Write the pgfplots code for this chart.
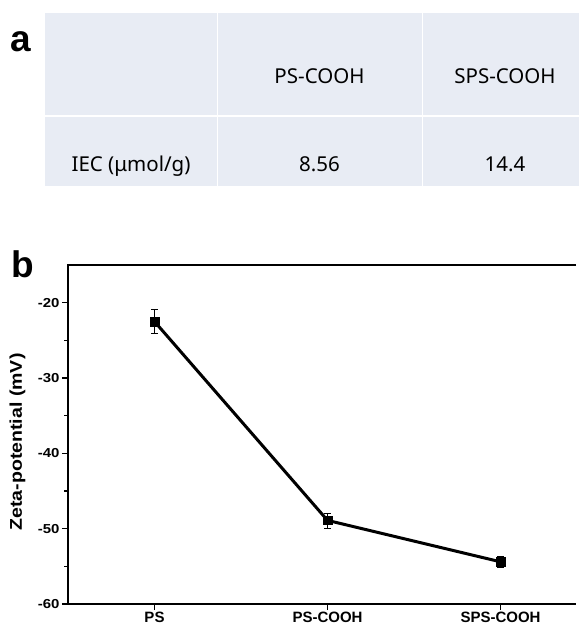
\documentclass[border=0pt]{standalone}
\usepackage{fontspec}
\setmainfont{Liberation Sans}
\newfontfamily\tabfont{Noto Sans}
\usepackage{pgfplots}
\pgfplotsset{compat=1.18}
\definecolor{cellbg}{RGB}{232,236,244}
\begin{document}
\begin{tikzpicture}
\useasboundingbox (0,0) rectangle (579pt,-626pt);
\begin{scope}[x=1pt,y=-1pt]
% table (panel a)
\fill[cellbg] (45,13) rectangle (216.5,115);
\fill[cellbg] (218,13) rectangle (421.5,115);
\fill[cellbg] (423,13) rectangle (579,115);
\fill[cellbg] (45,116.5) rectangle (216.5,186);
\fill[cellbg] (218,116.5) rectangle (421.5,186);
\fill[cellbg] (423,116.5) rectangle (579,186);
\begin{scope}[every node/.style={anchor=base, inner sep=0pt, font=\tabfont\fontsize{20.5}{24}\selectfont, text=black}]
\node at (319.5,83) {PS-COOH};
\node at (505,83) {SPS-COOH};
\node at (131,171) {IEC (μmol/g)};
\node at (319.5,171) {8.56};
\node at (505,171) {14.4};
\end{scope}
\node[anchor=base west, inner sep=0pt, font=\fontsize{37}{40}\selectfont\bfseries] at (10,52) {a};
\node[anchor=base west, inner sep=0pt, font=\fontsize{37}{40}\selectfont\bfseries] at (11,277) {b};
\end{scope}
\begin{axis}[
  scale only axis,
  anchor=south west, at={(68pt,-604pt)},
  width=508pt, height=339pt,
  xmin=-0.5, xmax=2.4364, ymin=-60, ymax=-15,
  clip=false,
  axis line style={draw=none},
  xtick pos=bottom, ytick pos=left,
  xtick={0,1,2}, xticklabels={PS,PS-COOH,SPS-COOH},
  ytick={-60,-50,-40,-30,-20}, yticklabels={-60,-50,-40,-30,-20},
  minor ytick={-55,-45,-35,-25},
  tick align=outside,
  major tick length=6pt, minor tick length=3.5pt,
  every tick/.style={black, line width=1.6pt},
  yticklabel style={font=\fontsize{13}{15}\selectfont\bfseries, xscale=1.15, inner sep=2pt},
  xticklabel style={font=\fontsize{15}{17}\selectfont\bfseries, inner sep=2pt},
  ylabel={Zeta-potential (mV)},
  ylabel style={at={(ticklabel cs:0.478,10pt)}, anchor=south, font=\fontsize{17}{19}\selectfont\bfseries, xscale=1.15, inner sep=0pt},
]
\draw[line width=2.4pt, line join=miter] (rel axis cs:1,1) -- (rel axis cs:0,1) -- (rel axis cs:0,0) -- (rel axis cs:1,0);
\addplot[black, line width=3pt, mark=square*, mark size=4.2pt,
  mark options={line width=0.4pt, solid},
  error bars/.cd, y dir=both, y explicit,
  error bar style={line width=0.7pt, black},
  error mark=-,
  error mark options={rotate=90, black, mark size=3.3pt, line width=0.7pt}]
  coordinates {(0,-22.5) +- (0,1.6) (1,-48.9) +- (0,1.0) (2,-54.4) +- (0,0.7)};
\end{axis}
\end{tikzpicture}
\end{document}
